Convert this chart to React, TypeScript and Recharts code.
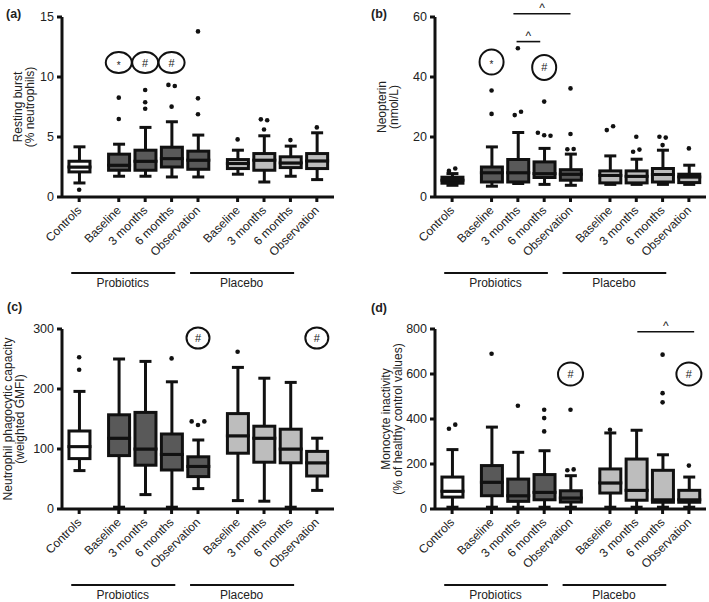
import React from "react";
import {
  ComposedChart, Bar, Scatter, XAxis, YAxis, ReferenceLine, ReferenceDot,
} from "recharts";

const FONT = '"Liberation Sans", Arial, Helvetica, sans-serif';
const INK = "#111";
const TEXT = "#222";
const FILLS: Record<string, string> = { control: "#ffffff", probiotic: "#595959", placebo: "#bdbdbd" };
const PLOT_H = 180;
const X_DOMAIN = [-0.65, 9.65];

// categories on a numeric axis so the two groups get a wider gap
const CATEGORIES = ["Controls", "Baseline", "3 months", "6 months", "Observation", "Baseline", "3 months", "6 months", "Observation"];
const POSITIONS = [0, 1.5, 2.5, 3.5, 4.5, 6, 7, 8, 9];
const GROUPS = ["control", "probiotic", "probiotic", "probiotic", "probiotic", "placebo", "placebo", "placebo", "placebo"];
const GROUP_SPANS = [
  { label: "Probiotics", from: 1, to: 4 },
  { label: "Placebo", from: 5, to: 8 },
];

// [min, q1, median, q3, max] per category
const BURST_STATS = [
  [1.17, 2.09, 2.5, 2.98, 4.18],
  [1.73, 2.23, 2.65, 3.57, 4.4],
  [1.73, 2.23, 2.98, 3.9, 5.8],
  [1.67, 2.5, 3.2, 4.15, 6.27],
  [1.67, 2.31, 3.07, 3.82, 5.16],
  [1.9, 2.37, 2.79, 3.12, 3.9],
  [1.25, 2.23, 3.07, 3.62, 5.1],
  [1.73, 2.45, 2.84, 3.35, 4.24],
  [1.45, 2.37, 3.01, 3.62, 5.35],
];
const BURST_OUTLIERS = [[0.61], [8.28, 6.5], [8.92, 7.89, 7.36], [9.34, 9.25, 7.53], [13.8, 8.22, 6.89], [4.8], [6.47, 6.4, 5.63], [4.74], [5.8]];
const BURST_TICKS = [0, 5, 10, 15];
const BURST_MARKS = [
  { cat: 1, y: 11.2, sym: "*" },
  { cat: 2, y: 11.2, sym: "#" },
  { cat: 3, y: 11.2, sym: "#" },
];

const NEOPTERIN_STATS = [
  [3.9, 4.6, 5.6, 6.6, 7.8],
  [3.6, 5.0, 8.1, 10.0, 16.7],
  [4.5, 5.0, 8.1, 12.5, 21.5],
  [4.2, 6.5, 7.8, 11.7, 16.2],
  [3.9, 5.6, 7.6, 9.1, 14.3],
  [4.2, 4.7, 7.2, 8.7, 13.7],
  [4.2, 4.7, 6.9, 8.7, 12.6],
  [4.2, 5.0, 7.5, 9.5, 15.6],
  [4.2, 4.8, 6.7, 7.6, 10.6],
];
const NEOPTERIN_OUTLIERS = [[8.7, 9.5], [35.5, 27.7], [49.6, 27.3, 28.4], [31.8, 21.4, 20.6, 20.4], [36.2, 21.0, 15.9, 16.0], [22.3, 23.6], [20.1, 15.1, 15.8], [20.1, 19.8, 17.3], [16.2]];
const NEOPTERIN_TICKS = [0, 20, 40, 60];
const NEOPTERIN_MARKS = [
  { cat: 1, y: 45, sym: "*" },
  { cat: 3, y: 43.2, sym: "#" },
];
const NEOPTERIN_BRACKETS = [
  { x1: 2.45, x2: 3.35, y: 51.8 },
  { x1: 2.33, x2: 4.5, y: 61.1 },
];

const PHAGO_STATS = [
  [64, 84, 104, 130, 196],
  [3, 89, 118, 157, 250],
  [24, 73, 100, 161, 246],
  [3, 65, 91, 125, 212],
  [34, 54, 71, 87, 115],
  [14, 93, 122, 159, 236],
  [13, 78, 118, 138, 218],
  [3, 77, 100, 133, 211],
  [31, 55, 77, 96, 118],
];
const PHAGO_OUTLIERS = [[253, 232], [], [], [251], [146, 140, 146], [262], [], [], []];
const PHAGO_TICKS = [0, 100, 200, 300];
const PHAGO_MARKS = [
  { cat: 4, y: 285, sym: "#" },
  { cat: 8, y: 285, sym: "#" },
];

const MONO_STATS = [
  [8, 53, 79, 142, 264],
  [8, 59, 119, 193, 364],
  [8, 34, 59, 133, 252],
  [8, 41, 74, 153, 259],
  [8, 31, 49, 81, 148],
  [8, 71, 116, 178, 338],
  [8, 39, 83, 222, 350],
  [8, 30, 41, 172, 241],
  [8, 30, 41, 83, 142],
];
const MONO_OUTLIERS = [[357, 375], [690], [459], [441, 404, 345], [441, 172, 176], [352], [], [686, 515, 474], [193]];
const MONO_TICKS = [0, 200, 400, 600, 800];
const MONO_MARKS = [
  { cat: 4, y: 600, sym: "#" },
  { cat: 8, y: 600, sym: "#" },
];
const MONO_BRACKETS = [{ x1: 7.04, x2: 9.2, y: 788 }];

function boxRows(stats: number[][]) {
  return stats.map(([min, q1, med, q3, max], i) => ({
    x: POSITIONS[i],
    group: GROUPS[i],
    floor: min,
    lowWhisker: q1 - min,
    lowBox: med - q1,
    highBox: q3 - med,
    highWhisker: max - q3,
  }));
}

// close outliers are spread sideways like in the original plots
function outlierPoints(outliers: number[][], yMax: number) {
  const pts: { x: number; y: number }[] = [];
  outliers.forEach((vals, i) => {
    let cluster: number[] = [];
    const flush = () => {
      cluster.forEach((v, k) => pts.push({ x: POSITIONS[i] + (k - (cluster.length - 1) / 2) * 0.24, y: v }));
      cluster = [];
    };
    vals.forEach((v) => {
      if (cluster.length && Math.abs(v - cluster[cluster.length - 1]) > yMax * 0.025) flush();
      cluster.push(v);
    });
    flush();
  });
  return pts;
}

const Hidden = () => <g />;

const BoxPart = (p: any) => (
  <rect x={p.x} y={p.y} width={p.width} height={p.height} fill={FILLS[p.payload.group]} stroke={INK} strokeWidth={3} />
);

const LowWhisker = (p: any) => {
  const cx = p.x + p.width / 2;
  const bottom = p.y + p.height;
  return (
    <g stroke={INK} strokeWidth={3}>
      <line x1={cx} x2={cx} y1={p.y} y2={bottom} />
      <line x1={cx - 6} x2={cx + 6} y1={bottom} y2={bottom} />
    </g>
  );
};

const HighWhisker = (p: any) => {
  const cx = p.x + p.width / 2;
  return (
    <g stroke={INK} strokeWidth={3}>
      <line x1={cx} x2={cx} y1={p.y + p.height} y2={p.y} />
      <line x1={cx - 6} x2={cx + 6} y1={p.y} y2={p.y} />
    </g>
  );
};

const Outlier = (p: any) => <circle cx={p.cx} cy={p.cy} r={2.3} fill={INK} />;

function CatTick(props: any) {
  const { x, y, payload } = props;
  const label = CATEGORIES[POSITIONS.indexOf(payload.value)];
  const ax = x + 3;
  const ay = y + 7;
  return (
    <text x={ax} y={ay} transform={`rotate(-45 ${ax} ${ay})`} textAnchor="end" fontSize={12} fill={TEXT} fontFamily={FONT}>
      {label}
    </text>
  );
}

interface PanelProps {
  stats: number[][];
  outliers: number[][];
  yTicks: number[];
  marks: { cat: number; y: number; sym: string }[];
  brackets?: { x1: number; x2: number; y: number }[];
  markR: [number, number];
  left: number;
  top: number;
  width: number;
  yAxisWidth: number;
  marginRight: number;
}

function BoxPanel({ stats, outliers, yTicks, marks, brackets = [], markR, left, top, width, yAxisWidth, marginRight }: PanelProps) {
  const yMax = yTicks[yTicks.length - 1];
  const rows = boxRows(stats);
  const points = outlierPoints(outliers, yMax);
  const lineY = (-yMax * 76) / PLOT_H;
  const labelY = (-yMax * 90) / PLOT_H;
  const [rx, ry] = markR;

  return (
    <div style={{ position: "absolute", left, top }}>
      <ComposedChart width={width} height={290} data={rows} margin={{ top: 17, right: marginRight, bottom: 0, left: 0 }}>
        <XAxis
          dataKey="x" type="number" domain={X_DOMAIN} ticks={POSITIONS} interval={0} height={93}
          tick={CatTick} tickSize={5} tickLine={{ stroke: INK, strokeWidth: 3 }} axisLine={{ stroke: INK, strokeWidth: 3 }}
        />
        {/* separate hidden axis for the outlier dots so their jitter does not shrink the boxes */}
        <XAxis xAxisId="dots" dataKey="x" type="number" domain={X_DOMAIN} hide />
        <YAxis
          type="number" domain={[0, yMax]} ticks={yTicks} interval={0} width={yAxisWidth} tickSize={5} tickMargin={3}
          tick={{ fontSize: 12.5, fill: TEXT, fontFamily: FONT }} tickLine={{ stroke: INK, strokeWidth: 3 }}
          axisLine={{ stroke: INK, strokeWidth: 3 }}
        />
        <Bar dataKey="floor" stackId="box" barSize={21} shape={Hidden} isAnimationActive={false} />
        <Bar dataKey="lowWhisker" stackId="box" barSize={21} shape={LowWhisker} isAnimationActive={false} />
        <Bar dataKey="lowBox" stackId="box" barSize={21} shape={BoxPart} isAnimationActive={false} />
        <Bar dataKey="highBox" stackId="box" barSize={21} shape={BoxPart} isAnimationActive={false} />
        <Bar dataKey="highWhisker" stackId="box" barSize={21} shape={HighWhisker} isAnimationActive={false} />
        <Scatter xAxisId="dots" data={points} dataKey="y" shape={Outlier} isAnimationActive={false} />

        {marks.map((m, k) => (
          <ReferenceDot
            key={`m${k}`} x={POSITIONS[m.cat]} y={m.y} ifOverflow="visible"
            shape={(p: any) => (
              <g>
                <ellipse cx={p.cx} cy={p.cy} rx={rx} ry={ry} fill="#fff" stroke={INK} strokeWidth={2} />
                <text x={p.cx} y={m.sym === "*" ? p.cy + 6 : p.cy + 4} textAnchor="middle" fontSize={m.sym === "*" ? 10 : 11} fill={TEXT} fontFamily={FONT}>
                  {m.sym}
                </text>
              </g>
            )}
          />
        ))}

        {brackets.map((b, k) => (
          <ReferenceLine
            key={`b${k}`} segment={[{ x: b.x1, y: b.y }, { x: b.x2, y: b.y }]} ifOverflow="visible"
            stroke={INK} strokeWidth={1.6}
          />
        ))}
        {brackets.map((b, k) => (
          <ReferenceDot
            key={`c${k}`} x={(b.x1 + b.x2) / 2} y={b.y} ifOverflow="visible"
            shape={(p: any) => (
              <text x={p.cx} y={p.cy - 1.5} textAnchor="middle" fontSize={12} fill={TEXT} fontFamily={FONT}>^</text>
            )}
          />
        ))}

        {GROUP_SPANS.map((g, k) => (
          <ReferenceLine
            key={`g${k}`} segment={[{ x: POSITIONS[g.from] - 1.8, y: lineY }, { x: POSITIONS[g.to] - 0.86, y: lineY }]}
            ifOverflow="visible" stroke={INK} strokeWidth={2}
          />
        ))}
        {GROUP_SPANS.map((g, k) => (
          <ReferenceDot
            key={`gl${k}`} x={(POSITIONS[g.from] + POSITIONS[g.to]) / 2 - 1.35} y={labelY} ifOverflow="visible"
            shape={(p: any) => (
              <text x={p.cx} y={p.cy} textAnchor="middle" fontSize={12} fill={TEXT} fontFamily={FONT}>{g.label}</text>
            )}
          />
        ))}
      </ComposedChart>
    </div>
  );
}

function YTitle({ x, cy, lines }: { x: number; cy: number; lines: string[] }) {
  return (
    <>
      {lines.map((t, k) => (
        <text
          key={k} transform={`translate(${x + k * 12},${cy}) rotate(-90)`} textAnchor="middle"
          dominantBaseline="central" fontSize={12} fill={TEXT} fontFamily={FONT}
        >
          {t}
        </text>
      ))}
    </>
  );
}

export default function App() {
  return (
    <div style={{ position: "absolute", left: 0, top: 0, width: 709, height: 602, background: "#fff", overflow: "hidden" }}>
      <BoxPanel stats={BURST_STATS} outliers={BURST_OUTLIERS} yTicks={BURST_TICKS} marks={BURST_MARKS} markR={[13, 10.5]}
        left={0} top={0} width={354} yAxisWidth={62} marginRight={20} />
      <BoxPanel stats={NEOPTERIN_STATS} outliers={NEOPTERIN_OUTLIERS} yTicks={NEOPTERIN_TICKS} marks={NEOPTERIN_MARKS}
        brackets={NEOPTERIN_BRACKETS} markR={[12, 12.5]} left={354} top={0} width={355} yAxisWidth={81} marginRight={3} />
      <BoxPanel stats={PHAGO_STATS} outliers={PHAGO_OUTLIERS} yTicks={PHAGO_TICKS} marks={PHAGO_MARKS} markR={[11.5, 10.5]}
        left={0} top={312} width={354} yAxisWidth={62} marginRight={20} />
      <BoxPanel stats={MONO_STATS} outliers={MONO_OUTLIERS} yTicks={MONO_TICKS} marks={MONO_MARKS} brackets={MONO_BRACKETS}
        markR={[12.5, 11.5]} left={354} top={312} width={355} yAxisWidth={81} marginRight={3} />

      <svg width={709} height={602} style={{ position: "absolute", left: 0, top: 0, pointerEvents: "none" }}>
        <g fontFamily={FONT} fontWeight="bold" fontSize={12.5} fill={TEXT}>
          <text x={6} y={18}>(a)</text>
          <text x={371} y={18}>(b)</text>
          <text x={7} y={311}>(c)</text>
          <text x={371} y={312}>(d)</text>
        </g>
        <YTitle x={18} cy={107} lines={["Resting burst", "(% neutrophils)"]} />
        <YTitle x={381.5} cy={107} lines={["Neopterin", "(nmol/L)"]} />
        <YTitle x={8} cy={419} lines={["Neutrophil phagocytic capacity", "(weighted GMFI)"]} />
        <YTitle x={385.5} cy={419} lines={["Monocyte inactivity", "(% of healthy control values)"]} />
      </svg>
    </div>
  );
}
